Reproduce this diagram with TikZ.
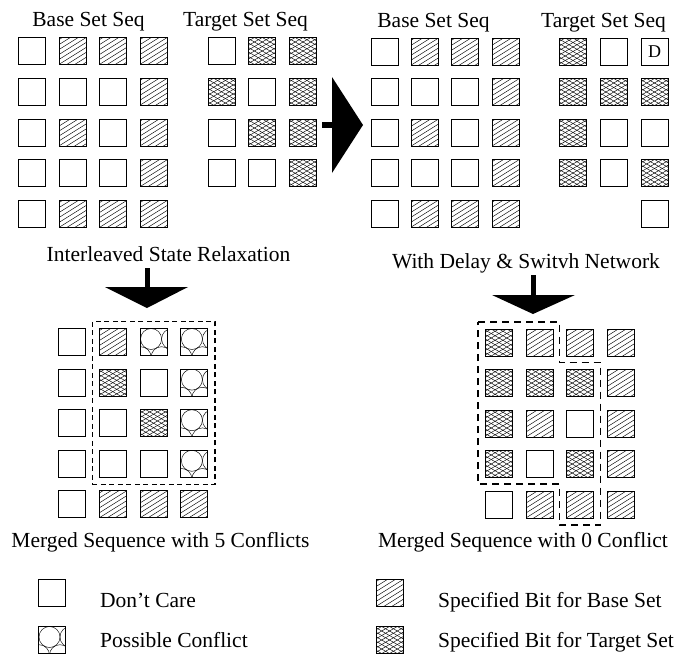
\documentclass[tikz,border=0pt]{standalone}
\usepackage{fontspec}
\setmainfont{Liberation Serif}
\usetikzlibrary{fit}

% One grid of cells: prefix, x0, dx, y0, dy, rows of cell types (E,B,T,C,D; N = no cell)
\newcommand\cellgrid[6]{%
  \foreach \row [count=\r] in {#6} {%
    \foreach \t [count=\c] in \row {%
      \if N\t\else
        \node[cell\t] (#1-\r-\c) at ({#2+(\c-1)*#3},{#4+(\r-1)*#5}) {};
      \fi
    }%
  }%
}

\begin{document}
\begin{tikzpicture}[x=1pt,y=-1pt,
  lbl/.style={font=\fontsize{21.5}{24}\selectfont, inner sep=0pt, anchor=base},
  hatch/.style={line width=0.45pt},
  cellE/.style={draw, line width=0.9pt, minimum size=27pt, inner sep=0pt, fill=white},
  cellB/.style={cellE, path picture={
     \foreach \k in {-5,...,5}
       \draw[hatch] ([shift={(122:\k*4.2pt)}]path picture bounding box.center)
         ++(212:26pt) -- ++(32:52pt);}},
  cellT/.style={cellE, path picture={
     \foreach \k in {-6,...,6} {
       \draw[hatch] ([shift={(120:\k*3.9pt)}]path picture bounding box.center)
         ++(210:26pt) -- ++(30:52pt);
       \draw[hatch] ([shift={(60:\k*3.9pt)}]path picture bounding box.center)
         ++(150:26pt) -- ++(-30:52pt);}}},
  cellC/.style={cellE, path picture={
     \foreach \dx/\dy in {11/10.5, 32/10.5, 0.5/28.7, 21.5/28.7}
       \draw[hatch] ([shift={(\dx pt,-\dy pt)}]path picture bounding box.north west)
         circle[radius=10.5pt];}},
  cellD/.style={cellE, label={[font=\fontsize{18}{18}\selectfont, inner sep=0pt]center:D}},
  region/.style={line width=1.4pt, dash pattern=on 5pt off 3.5pt},
  regionwide/.style={line width=1.3pt, dash pattern=on 7pt off 5pt},
  bigarrow/.style={fill=black, draw=none}
]
\useasboundingbox (0,0) rectangle (678,656);

% ---- input sequences ----
\node[lbl] (tl-base-lbl) at (88.5,26) {Base Set Seq};
\node[lbl] (tl-tgt-lbl) at (245.5,26) {Target Set Seq};
\cellgrid{tlb}{32}{40.5}{51}{40.75}{{E,B,B,B},{E,E,E,B},{E,B,E,B},{E,E,E,B},{E,B,B,B}}
\cellgrid{tlt}{221.5}{40.75}{51}{40.75}{{E,T,T},{T,E,T},{E,T,T},{E,E,T}}

% ---- sequences after delay ----
\node[lbl] (tr-base-lbl) at (433.5,27) {Base Set Seq};
\node[lbl] (tr-tgt-lbl) at (603.5,27) {Target Set Seq};
\cellgrid{trb}{384.5}{40.4}{51.5}{40.5}{{E,B,B,B},{E,E,E,B},{E,B,E,B},{E,E,E,B},{E,B,B,B}}
\cellgrid{trt}{573}{40.75}{51.5}{40.5}{{T,E,D},{T,T,T},{T,E,E},{T,E,T},{N,N,E}}

% right-pointing block arrow
\fill[bigarrow] (322,122) rectangle (334,128);
\fill[bigarrow] (332,77) -- (363,125) -- (332,173) -- cycle;

% ---- merged sequences ----
\node[lbl] (isr) at (168.5,261) {Interleaved State Relaxation};
\fill[bigarrow] (144.5,268) rectangle (149.5,288);
\fill[bigarrow] (105,287) -- (188,287) -- (147,308) -- cycle;

\node[lbl] (dsn) at (526,268) {With Delay \& Switvh Network};
\fill[bigarrow] (530.5,275) rectangle (535.5,296);
\fill[bigarrow] (492,295) -- (575,295) -- (533,314) -- cycle;

\cellgrid{bl}{72}{40.8}{342}{40.6}{{E,B,C,C},{E,T,E,C},{E,E,T,C},{E,E,E,C},{E,B,B,B}}
\cellgrid{br}{499}{40.5}{342.5}{40.5}{{T,B,B,B},{T,T,T,B},{T,B,E,B},{T,E,T,B},{E,B,B,B}}

\node[region, draw, fit=(bl-1-2)(bl-4-4), inner sep=6.5pt] (bl-window) {};
\draw[regionwide] (478,322) -- (559.5,322) -- (559.5,362.5) -- (600.5,362.5)
  -- (600.5,525) -- (559.5,525) -- (559.5,484) -- (478,484) -- cycle;

\node[lbl] (m5) at (160.5,547) {Merged Sequence with 5 Conflicts};
\node[lbl] (m0) at (523,547) {Merged Sequence with 0 Conflict};

% ---- legend ----
\node[cellE] (key-dc) at (52,593) {};
\node[cellC] (key-pc) at (52,640) {};
\node[cellB] (key-bs) at (389.5,593) {};
\node[cellT] (key-ts) at (389.5,640) {};
\node[lbl, anchor=base west] (key-dc-txt) at (100,607) {Don't Care};
\node[lbl, anchor=base west] (key-pc-txt) at (100,647) {Possible Conflict};
\node[lbl, anchor=base west] (key-bs-txt) at (438,607) {Specified Bit for Base Set};
\node[lbl, anchor=base west] (key-ts-txt) at (438,647) {Specified Bit for Target Set};
\end{tikzpicture}
\end{document}
